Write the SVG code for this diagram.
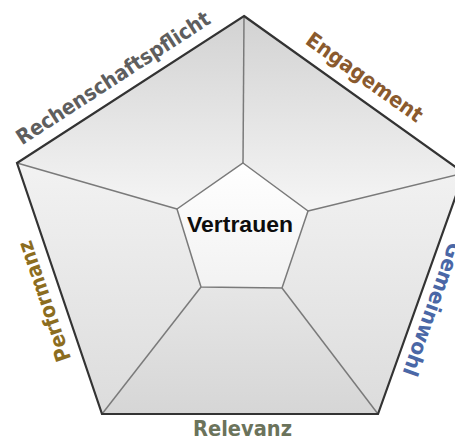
<svg xmlns="http://www.w3.org/2000/svg" width="455" height="440" viewBox="0 0 455 440">
  <defs>
    <linearGradient id="gTop" gradientUnits="userSpaceOnUse" x1="0" y1="16" x2="0" y2="210">
      <stop offset="0" stop-color="#d2d2d2"/>
      <stop offset="1" stop-color="#f5f5f5"/>
    </linearGradient>
    <linearGradient id="gSide" gradientUnits="userSpaceOnUse" x1="0" y1="163" x2="0" y2="414">
      <stop offset="0" stop-color="#f2f2f2"/>
      <stop offset="1" stop-color="#dcdcdc"/>
    </linearGradient>
    <linearGradient id="gBottom" gradientUnits="userSpaceOnUse" x1="0" y1="287" x2="0" y2="414">
      <stop offset="0" stop-color="#e6e6e6"/>
      <stop offset="1" stop-color="#d6d6d6"/>
    </linearGradient>
    <linearGradient id="gCenter" gradientUnits="userSpaceOnUse" x1="0" y1="163" x2="0" y2="288">
      <stop offset="0" stop-color="#ffffff"/>
      <stop offset="1" stop-color="#f2f2f2"/>
    </linearGradient>
  </defs>
  <style>
    .facet { stroke: none; }
    .spoke { stroke: #7a7a7a; stroke-width: 1.5; fill: none; }
    .inner { stroke: #7a7a7a; stroke-width: 1.5; }
    .outer { stroke: #333333; stroke-width: 2.2; fill: none; stroke-linejoin: miter; }
    .lbl { font-family: "DejaVu Sans", "Liberation Sans", sans-serif; font-weight: bold; font-size: 21px; text-anchor: middle; }
    .center { font-family: "Liberation Sans", Arial, sans-serif; font-weight: bold; font-size: 21.5px; text-anchor: middle; fill: #0d0d0d; }
  </style>
  <rect width="455" height="440" fill="#ffffff"/>

  <g id="facet-rechenschaftspflicht">
    <polygon class="facet" points="244,16 17,163 177,209 243,163" fill="url(#gTop)"/>
    <text class="lbl" fill="#5e5e5e" transform="translate(117,84) rotate(-32.9)" textLength="226" lengthAdjust="spacingAndGlyphs">Rechenschaftspflicht</text>
  </g>
  <g id="facet-engagement">
    <polygon class="facet" points="244,16 464,173 308,211 243,163" fill="url(#gTop)"/>
    <text class="lbl" fill="#8a5a2e" transform="translate(360.5,83) rotate(35.5)" textLength="138" lengthAdjust="spacingAndGlyphs">Engagement</text>
  </g>
  <g id="facet-gemeinwohl">
    <polygon class="facet" points="464,173 378,414 282,288 308,211" fill="url(#gSide)"/>
    <text class="lbl" fill="#4a67a6" transform="translate(426,307) rotate(109.7)" textLength="140" lengthAdjust="spacingAndGlyphs">Gemeinwohl</text>
  </g>
  <g id="facet-relevanz">
    <polygon class="facet" points="378,414 102,414 201,287 282,288" fill="url(#gBottom)"/>
    <text class="lbl" fill="#6b735b" x="242.5" y="436" textLength="99" lengthAdjust="spacingAndGlyphs">Relevanz</text>
  </g>
  <g id="facet-performanz">
    <polygon class="facet" points="102,414 17,163 177,209 201,287" fill="url(#gSide)"/>
    <text class="lbl" fill="#8c6d1f" transform="translate(51,299) rotate(-108.7)" textLength="126" lengthAdjust="spacingAndGlyphs">Performanz</text>
  </g>

  <g id="connectors">
    <line class="spoke" x1="243" y1="163" x2="244" y2="16"/>
    <line class="spoke" x1="177" y1="209" x2="17" y2="163"/>
    <line class="spoke" x1="308" y1="211" x2="464" y2="173"/>
    <line class="spoke" x1="282" y1="288" x2="378" y2="414"/>
    <line class="spoke" x1="201" y1="287" x2="102" y2="414"/>
  </g>

  <g id="node-vertrauen">
    <polygon class="inner" points="243,163 308,211 282,288 201,287 177,209" fill="url(#gCenter)"/>
    <text class="center" x="240" y="231.7" textLength="106" lengthAdjust="spacingAndGlyphs">Vertrauen</text>
  </g>

  <g id="outline">
    <polygon class="outer" points="244,16 464,173 378,414 102,414 17,163"/>
  </g>
</svg>
